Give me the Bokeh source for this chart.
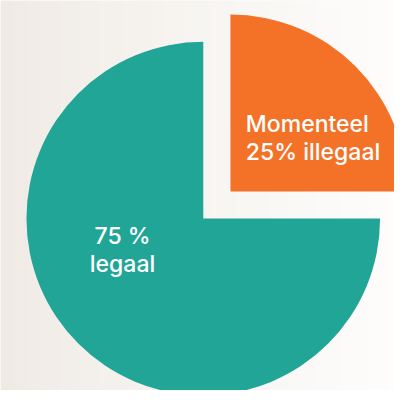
import numpy as np
from bokeh.plotting import figure
from bokeh.embed import file_html
from bokeh.resources import INLINE
from bokeh.core.properties import value

# data
labels = ["75 %\nlegaal", "Momenteel\n25% illegaal"]
values = [75, 25]
colors = ["#21a597", "#f37228"]

# styling
W, H = 394, 390
cx, cy, r = 211, 179, 184
explode = [0, 40]
start_deg = [90, 0]  # teal from top going counterclockwise; orange in first quadrant
label_dx = [-84, 16]
label_dy = [-33, 56]
label_align = ["center", "left"]

p = figure(width=W, height=H, x_range=(0, 410), y_range=(0, 406),
           output_backend="svg", toolbar_location=None, min_border=0)
p.axis.visible = False
p.grid.visible = False
p.outline_line_color = None
p.background_fill_color = "#faf8f6"
p.border_fill_color = "#faf8f6"

# background gradient (decorative)
n = 60
xs = np.linspace(0, 410, n + 1)
c0 = np.array([239, 234, 228])
c1 = np.array([254, 253, 252])
bg_cols = []
for i in range(n):
    t = (i / (n - 1)) ** 0.8
    c = (c0 + (c1 - c0) * t).astype(int)
    bg_cols.append("#%02x%02x%02x" % tuple(c))
p.quad(left=xs[:-1], right=xs[1:] + 0.5, bottom=0, top=406, fill_color=bg_cols, line_color=None)

total = sum(values)
angles = [v / total * 2 * np.pi for v in values]
for i, (v, col) in enumerate(zip(values, colors)):
    a0 = np.deg2rad(start_deg[i])
    a1 = a0 + angles[i]
    mid = (a0 + a1) / 2
    ox = cx + explode[i] * np.cos(mid)
    oy = cy + explode[i] * np.sin(mid)
    p.wedge(x=ox, y=oy, radius=r, start_angle=a0, end_angle=a1,
            fill_color=col, line_color=None)
    p.text(x=[ox + label_dx[i]], y=[oy + label_dy[i]], text=[labels[i]],
           text_color="white", text_font=value("Inter Medium"), text_font_size="23px",
           text_align=label_align[i], text_baseline="middle", text_line_height=1.0)

open("out.html", "w").write(file_html(p, INLINE))
